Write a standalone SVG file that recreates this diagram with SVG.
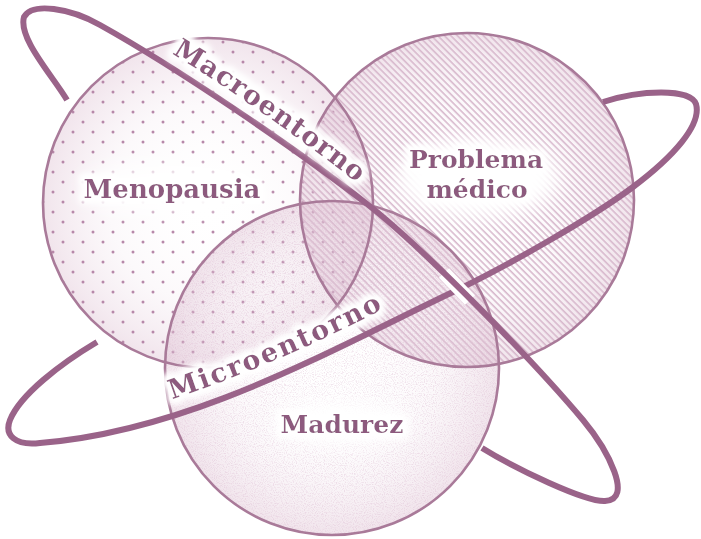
<svg xmlns="http://www.w3.org/2000/svg" width="701" height="539" viewBox="0 0 701 539">
<defs>
<style>
.outline{fill:none;stroke:#a97a99;stroke-width:2.6}
.orbit{fill:none;stroke:#9a6389;stroke-width:6}
.lbl{font-family:"DejaVu Serif","Liberation Serif",serif;font-weight:bold;fill:#8d5a7e}
.glow{filter:url(#halo)}
.cloud{fill:#fff;filter:url(#blur2)}
</style>
<filter id="halo" x="-20%" y="-60%" width="140%" height="220%">
<feMorphology in="SourceAlpha" operator="dilate" radius="4" result="d"/>
<feGaussianBlur in="d" stdDeviation="3" result="b"/>
<feFlood flood-color="#fff"/>
<feComposite in2="b" operator="in" result="w"/>
<feMerge><feMergeNode in="w"/><feMergeNode in="w"/><feMergeNode in="SourceGraphic"/></feMerge>
</filter>
<filter id="blur2" x="-50%" y="-80%" width="200%" height="260%"><feGaussianBlur stdDeviation="10"/></filter>
<radialGradient id="shade" cx="0.5" cy="0.5" r="0.5">
<stop offset="0" stop-color="#fff" stop-opacity="0"/>
<stop offset="0.6" stop-color="#ead6e3" stop-opacity="0.15"/>
<stop offset="1" stop-color="#dcbccf" stop-opacity="0.4"/>
</radialGradient>
<pattern id="dots" patternUnits="userSpaceOnUse" x="8" y="7" width="20" height="20">
<circle cx="5" cy="5" r="1.5" fill="#b788a9"/><circle cx="15" cy="15" r="1.5" fill="#b788a9"/>
</pattern>
<pattern id="hatch" patternUnits="userSpaceOnUse" width="4.6" height="4.6" patternTransform="rotate(45)">
<rect width="4.6" height="1.6" fill="#d8b9cd"/>
</pattern>
<filter id="stipple" x="0" y="0" width="100%" height="100%">
<feTurbulence type="fractalNoise" baseFrequency="0.9" numOctaves="1" seed="7"/>
<feColorMatrix type="matrix" values="0 0 0 0 0.72  0 0 0 0 0.5  0 0 0 0 0.64  4 0 0 0 -1.9"/>
</filter>
<clipPath id="cMad"><circle cx="332" cy="368" r="167"/></clipPath>
<path id="macroTxt" d="M138,34 Q237,89 374,196"/>
<path id="microTxt" d="M130,413 Q270,370 400,300"/>
</defs>
<rect width="701" height="539" fill="#fff"/>

<g id="menopausia">
<circle cx="208" cy="203" r="165" fill="url(#shade)"/>
<circle cx="208" cy="203" r="165" fill="url(#dots)"/>
</g>
<g id="problema">
<circle cx="467" cy="200" r="167" fill="url(#shade)"/>
<circle cx="467" cy="200" r="167" fill="url(#hatch)"/>
</g>
<g id="madurez">
<circle cx="332" cy="368" r="167" fill="url(#shade)"/>
<rect x="160" y="196" width="344" height="344" fill="#000" filter="url(#stipple)" clip-path="url(#cMad)" opacity="0.4"/>
</g>
<g id="outlines">
<circle class="outline" cx="208" cy="203" r="165"/>
<circle class="outline" cx="467" cy="200" r="167"/>
<circle class="outline" cx="332" cy="368" r="167"/>
</g>

<g id="clouds">
<ellipse class="cloud" cx="172" cy="188" rx="90" ry="22"/>
<ellipse class="cloud" cx="478" cy="178" rx="82" ry="40"/>
<ellipse class="cloud" cx="342" cy="423" rx="68" ry="22"/>
</g>

<g id="connectors">
<path id="micro" class="orbit" d="M97,342 C60,364 20,395 10,420 C4,435 15,446 40,443 C190,431 329,351 455,291 C509,265 593,217 633,187 C673,157 702,125 696,104 C690,88 640,90 603,102"/>
<path d="M444,273 L470,300" stroke="#fff" stroke-width="14" fill="none"/>
<path id="macro" class="orbit" d="M67,100 C52,75 18,38 24,17 C32,2 70,8 100,25 C179,69 296,149 367,204 C426,250 535,363 583,420 C608,450 634,500 605,501 C585,502 516,469 482,448"/>
</g>

<g id="labels">
<text class="lbl glow" x="172" y="198" text-anchor="middle" font-size="26">Menopausia</text>
<text class="lbl glow" x="476" y="168" text-anchor="middle" font-size="25">Problema</text>
<text class="lbl glow" x="477" y="198" text-anchor="middle" font-size="25">médico</text>
<text class="lbl glow" x="342" y="433" text-anchor="middle" font-size="25">Madurez</text>
<text class="lbl glow" font-size="27"><textPath href="#macroTxt" startOffset="39" textLength="226">Macroentorno</textPath></text>
<text class="lbl glow" font-size="27"><textPath href="#microTxt" startOffset="44" textLength="230">Microentorno</textPath></text>
</g>
</svg>
